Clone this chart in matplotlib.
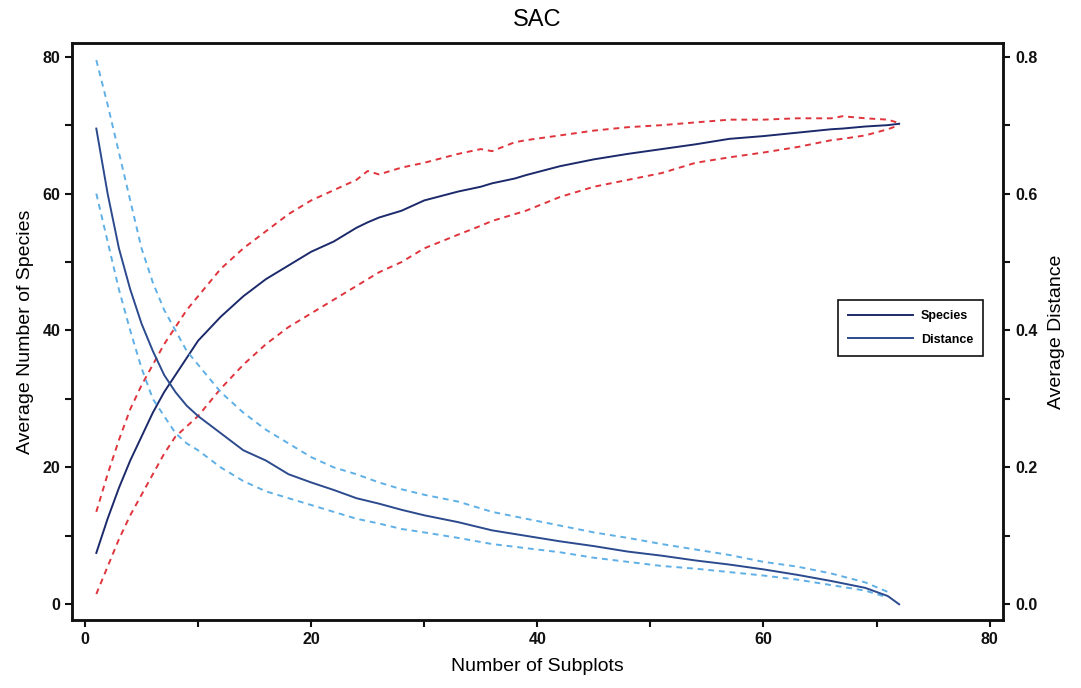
import matplotlib
matplotlib.use("Agg")
import matplotlib.pyplot as plt
from matplotlib.ticker import MultipleLocator

plt.rcParams['font.family'] = ['Liberation Sans', 'DejaVu Sans']

# Number of subplots
x_sp = [1, 2, 3, 4, 5, 6, 7, 8, 9, 10, 12, 14, 16, 18, 20, 22, 24, 25, 26, 28, 30, 33, 35, 36, 38, 39,
        42, 45, 48, 51, 54, 57, 60, 63, 66, 67, 69, 71, 72]
species_mean = [7.5, 12.5, 17, 21, 24.5, 28, 31, 33.5, 36, 38.5, 42, 45, 47.5, 49.5, 51.5, 53, 55, 55.8, 56.5,
                57.5, 59, 60.3, 61, 61.5, 62.2, 62.7, 64, 65, 65.8, 66.5, 67.2, 68, 68.4, 68.9, 69.4, 69.5,
                69.8, 70, 70.2]
species_upper = [13.5, 19, 24, 28.5, 32, 35, 38, 40.5, 43, 45, 49, 52, 54.5, 57, 59, 60.5, 62, 63.3, 62.8,
                 63.8, 64.5, 65.8, 66.5, 66.2, 67.5, 67.8, 68.5, 69.2, 69.7, 70, 70.4, 70.8, 70.8, 71, 71,
                 71.3, 71, 70.8, 70.3]
species_lower = [1.5, 5.5, 9.5, 13, 16, 19, 22, 24.5, 26, 27.5, 31.5, 35, 38, 40.5, 42.5, 44.5, 46.5, 47.5,
                 48.5, 50, 52, 54, 55.3, 56, 57, 57.5, 59.5, 61, 62, 63, 64.5, 65.3, 66, 66.8, 67.8, 68,
                 68.5, 69.4, 70]

x_d = [1, 2, 3, 4, 5, 6, 7, 8, 9, 10, 12, 14, 16, 18, 20, 22, 24, 26, 28, 30, 33, 36, 39, 42, 45, 48, 51,
       54, 57, 60, 63, 66, 69, 71, 72]
dist_mean = [0.695, 0.60, 0.52, 0.46, 0.41, 0.37, 0.335, 0.31, 0.29, 0.275, 0.25, 0.225, 0.21, 0.19, 0.178,
             0.167, 0.155, 0.147, 0.138, 0.13, 0.12, 0.108, 0.1, 0.092, 0.085, 0.077, 0.071, 0.064, 0.058,
             0.051, 0.043, 0.034, 0.024, 0.012, 0.0]
x_db = [1, 2, 3, 4, 5, 6, 7, 8, 9, 10, 12, 14, 16, 18, 20, 22, 24, 26, 28, 30, 33, 36, 39, 42, 45, 48, 51,
        54, 57, 60, 63, 66, 69, 71]
dist_upper = [0.795, 0.73, 0.66, 0.59, 0.52, 0.47, 0.43, 0.40, 0.37, 0.35, 0.31, 0.28, 0.255, 0.235, 0.215,
              0.2, 0.19, 0.178, 0.168, 0.16, 0.15, 0.135, 0.125, 0.115, 0.105, 0.097, 0.088, 0.08, 0.072,
              0.062, 0.055, 0.045, 0.032, 0.018]
dist_lower = [0.60, 0.53, 0.46, 0.40, 0.345, 0.30, 0.275, 0.25, 0.235, 0.225, 0.2, 0.18, 0.165, 0.155, 0.145,
              0.135, 0.125, 0.118, 0.11, 0.105, 0.097, 0.088, 0.082, 0.076, 0.068, 0.062, 0.056, 0.052,
              0.047, 0.042, 0.036, 0.028, 0.02, 0.01]

NAVY = '#1c2a6b'
NAVY2 = '#2c4a8e'
RED = '#e0343c'
LBLUE = '#5fb0e6'

fig = plt.figure(figsize=(10.81, 6.88), dpi=100)
ax = fig.add_axes([0.0666, 0.0988, 0.8614, 0.8387])
ax2 = ax.twinx()

ax.plot(x_sp, species_upper, color=RED, lw=1.4, ls=(0, (3, 2.5)))
ax.plot(x_sp, species_lower, color=RED, lw=1.4, ls=(0, (3, 2.5)))
l1, = ax.plot(x_sp, species_mean, color=NAVY, lw=1.4)

ax2.plot(x_db, dist_upper, color=LBLUE, lw=1.4, ls=(0, (3, 2.5)))
ax2.plot(x_db, dist_lower, color=LBLUE, lw=1.4, ls=(0, (3, 2.5)))
l2, = ax2.plot(x_d, dist_mean, color=NAVY2, lw=1.4)

ax.set_xlim(-1.15, 81.2)
ax.set_ylim(-2.3, 82.0)
ax2.set_ylim(-0.023, 0.820)

ax.xaxis.set_major_locator(MultipleLocator(20))
ax.xaxis.set_minor_locator(MultipleLocator(10))
ax.yaxis.set_major_locator(MultipleLocator(20))
ax.yaxis.set_minor_locator(MultipleLocator(10))
ax2.yaxis.set_major_locator(MultipleLocator(0.2))
ax2.yaxis.set_minor_locator(MultipleLocator(0.1))
ax2.yaxis.set_major_formatter(matplotlib.ticker.FormatStrFormatter('%.1f'))

for a in (ax, ax2):
    a.tick_params(which='both', direction='out', width=1.5, colors='#111111', labelsize=11.5)
    a.tick_params(which='major', length=5)
    a.tick_params(which='minor', length=5)
    for s in a.spines.values():
        s.set_linewidth(1.8)
        s.set_color('#111111')
for lab in ax.get_xticklabels() + ax.get_yticklabels() + ax2.get_yticklabels():
    lab.set_fontweight('bold')

ax.set_title('SAC', fontsize=17, pad=12)
ax.set_xlabel('Number of Subplots', fontsize=14, labelpad=8)
ax.set_ylabel('Average Number of Species', fontsize=14, labelpad=6)
ax2.set_ylabel('Average Distance', fontsize=14, labelpad=8)

leg = ax2.legend([l1, l2], ['Species', 'Distance'], loc='center left',
                 bbox_to_anchor=(0.823, 0.506), frameon=True, fancybox=False,
                 edgecolor='#111111', framealpha=1, handlelength=5.2, handletextpad=0.6,
                 borderpad=0.8, labelspacing=0.9, borderaxespad=0,
                 prop={'weight': 'bold', 'size': 9})
leg.get_frame().set_linewidth(1.2)

fig.savefig('out.png', dpi=100)
